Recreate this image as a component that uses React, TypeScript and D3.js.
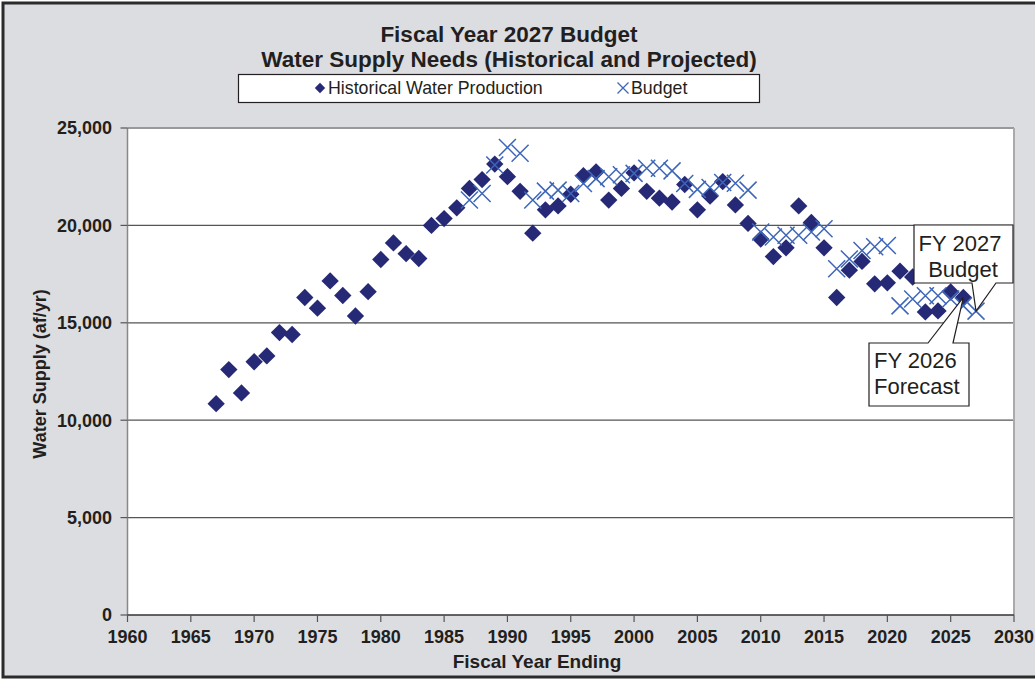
import React from "react";
import * as d3 from "d3";

const histYears = [1967,1968,1969,1970,1971,1972,1973,1974,1975,1976,1977,1978,1979,1980,1981,1982,1983,1984,1985,1986,1987,1988,1989,1990,1991,1992,1993,1994,1995,1996,1997,1998,1999,2000,2001,2002,2003,2004,2005,2006,2007,2008,2009,2010,2011,2012,2013,2014,2015,2016,2017,2018,2019,2020,2021,2022,2023,2024,2025,2026];
const histValues = [10850,12600,11400,13000,13300,14500,14400,16300,15750,17150,16400,15350,16600,18250,19100,18550,18300,20000,20350,20900,21900,22350,23150,22500,21750,19600,20800,21000,21600,22550,22750,21300,21900,22700,21750,21400,21200,22100,20800,21500,22250,21050,20100,19300,18400,18850,21000,20150,18850,16300,17700,18150,17000,17050,17650,17350,15560,15610,16580,16300];

const budgetYears = [1987,1988,1989,1990,1991,1992,1993,1994,1995,1996,1997,1998,1999,2000,2001,2002,2003,2004,2005,2006,2007,2008,2009,2010,2011,2012,2013,2014,2015,2016,2017,2018,2019,2020,2021,2022,2023,2024,2025,2026,2027];
const budgetValues = [21300,21640,23100,24000,23700,21300,21760,21810,21640,22150,22400,22500,22600,22670,22930,22930,22800,22150,21850,21950,22200,22160,21810,19660,19400,19490,19490,19660,19830,17770,18280,18710,18900,18970,15870,16220,16390,16390,16220,15870,15600];

const xTicks = [1960,1965,1970,1975,1980,1985,1990,1995,2000,2005,2010,2015,2020,2025,2030];
const yTicks = [0,5000,10000,15000,20000,25000];

const titleLines = ["Fiscal Year 2027 Budget", "Water Supply Needs (Historical and Projected)"];
const legendLabels = ["Historical Water Production", "Budget"];

export default function App() {
  const W = 1035, H = 679;
  const x = d3.scaleLinear().domain([1960, 2030]).range([127.5, 1014]);
  const y = d3.scaleLinear().domain([0, 25000]).range([615, 128]);
  const fmt = d3.format(",");
  const font = "Arial, 'Liberation Sans', sans-serif";
  const navy = "#262975";
  const blue = "#3d66b8";
  const sq = d3.symbol().type(d3.symbolSquare).size(150)() as string;
  const xPath = (r: number) => `M${-r},${-r}L${r},${r}M${-r},${r}L${r},${-r}`;

  const p2027 = { x: x(2027), y: y(budgetValues[budgetValues.length - 1]) };
  const p2026 = { x: x(2026), y: y(histValues[histValues.length - 1]) };

  return (
    <div style={{ position: "absolute", left: 0, top: 0 }}>
      <svg width={W} height={H} style={{ display: "block" }}>
        <rect x={3} y={3} width={1045} height={674} fill="#dcdde1" stroke="#2b2b2b" strokeWidth={3} />
        <rect x={x(1960)} y={y(25000)} width={x(2030) - x(1960)} height={y(0) - y(25000)} fill="#ffffff" />
        {yTicks.filter(t => t > 0 && t < 25000).map(t => (
          <line key={t} x1={x(1960)} x2={x(2030)} y1={y(t)} y2={y(t)} stroke="#555" strokeWidth={1.2} />
        ))}
        <line x1={x(1960)} x2={x(2030)} y1={y(25000)} y2={y(25000)} stroke="#999" strokeWidth={2} />
        <line x1={x(2030)} x2={x(2030)} y1={y(25000)} y2={y(0)} stroke="#aaa" strokeWidth={2} />
        <line x1={x(1960)} x2={x(1960)} y1={y(25000)} y2={y(0)} stroke="#888" strokeWidth={1.5} />
        <line x1={x(1960)} x2={x(2030)} y1={y(0)} y2={y(0)} stroke="#333" strokeWidth={1.5} />
        {yTicks.map(t => (
          <g key={t}>
            <line x1={x(1960) - 7} x2={x(1960)} y1={y(t)} y2={y(t)} stroke="#555" strokeWidth={1.2} />
            <text x={112} y={y(t)} dy="0.35em" textAnchor="end" fontFamily={font} fontWeight="bold" fontSize={18} fill="#231f20">{fmt(t)}</text>
          </g>
        ))}
        {xTicks.map(t => (
          <g key={t}>
            <line x1={x(t)} x2={x(t)} y1={y(0)} y2={y(0) + 7} stroke="#555" strokeWidth={1.2} />
            <text x={x(t)} y={643} textAnchor="middle" fontFamily={font} fontWeight="bold" fontSize={18} fill="#231f20">{t}</text>
          </g>
        ))}
        <text x={537} y={668} textAnchor="middle" fontFamily={font} fontWeight="bold" fontSize={19} fill="#231f20">Fiscal Year Ending</text>
        <text transform={`translate(46,374) rotate(-90)`} textAnchor="middle" fontFamily={font} fontWeight="bold" fontSize={18} fill="#231f20">Water Supply (af/yr)</text>

        {titleLines.map((t, i) => (
          <text key={i} x={509} y={42 + i * 24.5} textAnchor="middle" fontFamily={font} fontWeight="bold" fontSize={22.5} fill="#231f20">{t}</text>
        ))}

        <rect x={238.5} y={74.5} width={521} height={28} fill="#fff" stroke="#231f20" strokeWidth={1.2} />
        <path d={sq} transform="translate(320,88) rotate(45) scale(0.6)" fill={navy} />
        <text x={328} y={94} fontFamily={font} fontSize={17.8} fill="#231f20">{legendLabels[0]}</text>
        <path d={xPath(5.5)} transform="translate(623,88)" stroke={blue} strokeWidth={1.3} fill="none" />
        <text x={631} y={94} fontFamily={font} fontSize={17.8} fill="#231f20">{legendLabels[1]}</text>

        {histYears.map((yr, i) => (
          <path key={yr} d={sq} transform={`translate(${x(yr)},${y(histValues[i])}) rotate(45)`} fill={navy} />
        ))}
        {budgetYears.map((yr, i) => (
          <path key={yr} d={xPath(8.5)} transform={`translate(${x(yr)},${y(budgetValues[i])})`} stroke={blue} strokeWidth={1.5} fill="none" />
        ))}

        <path d={`M914,225H1013V283H996L${p2027.x},${p2027.y}L972,283H914Z`} fill="#fff" stroke="#231f20" strokeWidth={1.2} />
        <text x={960} y={251} textAnchor="middle" fontFamily={font} fontSize={22} fill="#231f20">FY 2027</text>
        <text x={963} y={277} textAnchor="middle" fontFamily={font} fontSize={22} fill="#231f20">Budget</text>

        <path d={`M869,343H928L${p2026.x},${p2026.y}L953,343H969V406H869Z`} fill="#fff" stroke="#231f20" strokeWidth={1.2} />
        <text x={874} y={368} fontFamily={font} fontSize={22} fill="#231f20">FY 2026</text>
        <text x={874} y={394} fontFamily={font} fontSize={22} fill="#231f20">Forecast</text>
      </svg>
    </div>
  );
}
